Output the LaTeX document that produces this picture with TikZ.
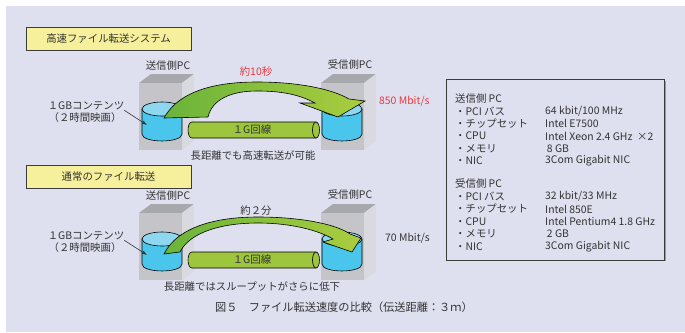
\documentclass[tikz,border=0pt]{standalone}
\usepackage{fontspec}
\setmainfont{Noto Sans CJK JP}
\usetikzlibrary{arrows.meta}

\definecolor{bg}{HTML}{DFE0EF}
\definecolor{ink}{HTML}{333333}
\definecolor{hotred}{HTML}{E8383C}
\definecolor{titlefill}{HTML}{F6EF9C}
\definecolor{boxline}{HTML}{3C3C3C}
\definecolor{pcgray}{HTML}{C5C5C9}
\definecolor{pcdark}{HTML}{A7A8AC}
\definecolor{pclight}{HTML}{D9DAE0}
\definecolor{diskblue}{HTML}{4AC5EC}
\definecolor{diskcap}{HTML}{8DD7F1}
\definecolor{pipegreen}{HTML}{9DC53E}
\definecolor{arrowdark}{HTML}{6AB33A}
\definecolor{arrowlight}{HTML}{AACD3E}
\definecolor{shadowgray}{HTML}{9A9AA4}

\begin{document}
\begin{tikzpicture}[x=1pt,y=-1pt,
  lbl/.style={font=\fontsize{10.4}{12}\selectfont,text=ink,inner sep=0pt},
  redlbl/.style={lbl,text=hotred},
  titlebox/.style={lbl,draw=boxline,line width=0.9pt,fill=titlefill,minimum width=165pt,minimum height=23pt},
  disk/.style={fill=diskblue,draw=black,line width=0.6pt},
  disktop/.style={fill=diskcap,draw=black,line width=0.6pt},
  pipe/.style={fill=pipegreen,draw=black,line width=0.6pt},
  bigarrow/.style={draw=black,line width=0.6pt,left color=arrowdark,right color=arrowlight},
  legend/.style={lbl,anchor=west}]
\useasboundingbox (0,0) rectangle (685,332);
\fill[white] (0,0) rectangle (685,332);
\fill[bg] (6,6) rectangle (685,332);

% titles
\node[titlebox] (fast) at (108.5,38.5) {高速ファイル転送システム};
\node[titlebox] (plain) at (108.5,176.5) {通常のファイル転送};

% both rows: PCs, disks, line
\foreach \dy/\row in {0/a,130/b} {
  \foreach \bx in {139,321} {
    \fill[pcdark] (\bx,83+\dy) -- (\bx+12,74+\dy) -- (\bx+55,74+\dy) -- (\bx+43,83+\dy) -- cycle;
    \fill[pclight] (\bx+43,83+\dy) -- (\bx+55,74+\dy) -- (\bx+55,141+\dy) -- (\bx+43,150+\dy) -- cycle;
    \fill[pcgray] (\bx,83+\dy) rectangle (\bx+43,150+\dy);
  }
  \foreach \cx in {162,342} {
    \draw[disk] (\cx-20,109+\dy) -- (\cx-20,134+\dy) .. controls (\cx-20,143.3+\dy) and (\cx+20,143.3+\dy) .. (\cx+20,134+\dy) -- (\cx+20,109+\dy) -- cycle;
    \draw[disktop] (\cx,109+\dy) ellipse [x radius=20pt,y radius=7pt];
  }
  \draw[pipe] (192,122+\dy) -- (316,122+\dy) -- (316,138+\dy) -- (192,138+\dy) .. controls (186.7,138+\dy) and (186.7,122+\dy) .. (192,122+\dy) -- cycle;
  \draw[pipe] (316,130+\dy) ellipse [x radius=3.5pt,y radius=8pt];
  \node[lbl] (line\row) at (252,130+\dy) {１G回線};
  \node[lbl] (snd\row) at (168,66+\dy) {送信側PC};
  \node[lbl] (rcv\row) at (350,65+\dy) {受信側PC};
  \node[lbl] (cnt\row) at (86,106+\dy) {１GBコンテンツ};
  \node[lbl] (mov\row) at (85,118+\dy) {（２時間映画）};
  \coordinate (tip\row) at (147,125+\dy);
  \draw[ink,line width=0.6pt,-{Latex[length=5pt,width=3.5pt]}] (cnt\row.south east) -- (tip\row);
}

% transfer arrows
\path[bigarrow] (164,118) .. controls (180,89) and (220,82) .. (257,82)
  .. controls (295,82) and (330,88) .. (349,99) -- (365,101) -- (338,117) -- (300,103) -- (315,103)
  .. controls (300,95) and (283,91) .. (257,91) .. controls (230,91) and (212,100) .. (208,117) -- cycle;
\path[bigarrow] (164,254) .. controls (178,226) and (218,217) .. (258,217)
  .. controls (300,217) and (336,224) .. (350,234) -- (361,238) -- (352,252) -- (323,242) -- (333,239)
  .. controls (318,230) and (290,223) .. (258,223) .. controls (222,223) and (190,232) .. (180,252) -- cycle;

\node[redlbl] (t10) at (256,72) {約10秒};
\node[redlbl,anchor=west] (r850) at (379,101) {850 Mbit/s};
\node[lbl] (msga) at (253,156) {長距離でも高速転送が可能};
\node[lbl] (t2) at (256,211) {約２分};
\node[lbl,anchor=west] (r70) at (385,238) {70 Mbit/s};
\node[lbl] (msgb) at (252,287) {長距離ではスループットがさらに低下};

% spec box
\fill[shadowgray] (448,81) rectangle (666,261);
\draw[boxline,line width=0.8pt,fill=bg] (446,79) rectangle (664,260);
\node[legend] (sh) at (455,98.5) {送信側 PC};
\node[legend] (s1) at (455,111) {・PCI バス};
\node[legend] (s2) at (455,123.5) {・チップセット};
\node[legend] (s3) at (455,136) {・CPU};
\node[legend] (s4) at (455,148.5) {・メモリ};
\node[legend] (s5) at (455,161) {・NIC};
\node[legend] (sv1) at (545,111) {64 kbit/100 MHz};
\node[legend] (sv2) at (545,123.5) {Intel E7500};
\node[legend] (sv3) at (545,136) {Intel Xeon 2.4 GHz \ ×2};
\node[legend] (sv4) at (545,148.5) {\,8 GB};
\node[legend] (sv5) at (545,161) {3Com Gigabit NIC};
\node[legend] (rh) at (455,184) {受信側 PC};
\node[legend] (r1) at (455,196.5) {・PCI バス};
\node[legend] (r2) at (455,209) {・チップセット};
\node[legend] (r3) at (455,221.5) {・CPU};
\node[legend] (r4) at (455,234) {・メモリ};
\node[legend] (r5) at (455,246.5) {・NIC};
\node[legend] (rv1) at (545,196.5) {32 kbit/33 MHz};
\node[legend] (rv2) at (545,209) {Intel 850E};
\node[legend] (rv3) at (545,221.5) {Intel Pentium4 1.8 GHz};
\node[legend] (rv4) at (545,234) {\,2 GB};
\node[legend] (rv5) at (545,246.5) {3Com Gigabit NIC};

% caption
\node[lbl,font=\fontsize{11.2}{13}\selectfont] (cap) at (344,307) {図５　ファイル転送速度の比較（伝送距離：３ｍ）};
\end{tikzpicture}
\end{document}
